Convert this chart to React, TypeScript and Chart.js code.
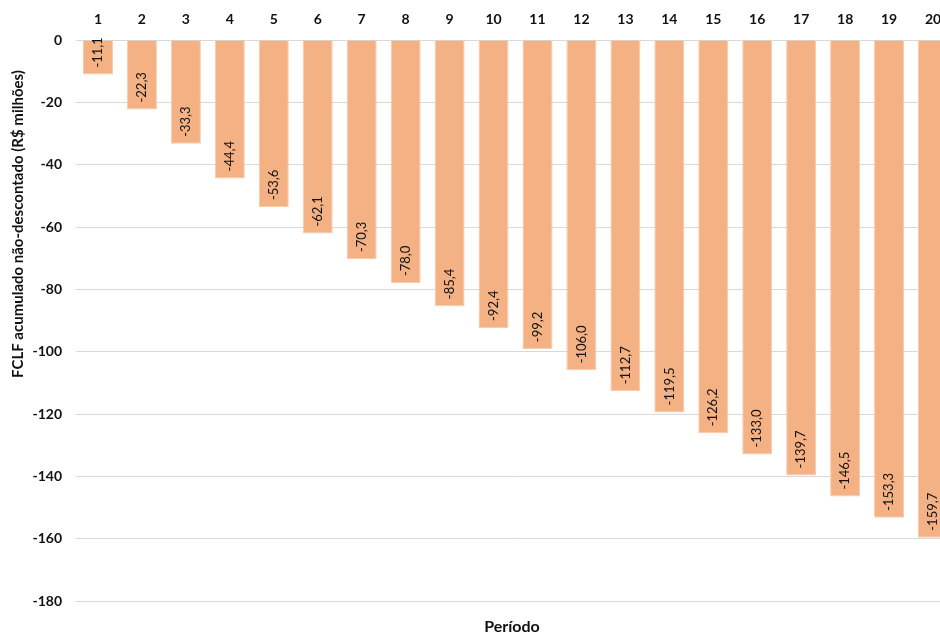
import React, { useEffect, useRef } from "react";
import { Chart, registerables } from "chart.js";

Chart.register(...registerables);

const periods: string[] = ["1","2","3","4","5","6","7","8","9","10","11","12","13","14","15","16","17","18","19","20"];
const fclfAcumulado: number[] = [-11.1, -22.3, -33.3, -44.4, -53.6, -62.1, -70.3, -78.0, -85.4, -92.4, -99.2, -106.0, -112.7, -119.5, -126.2, -133.0, -139.7, -146.5, -153.3, -159.7];
const yTitle = "FCLF acumulado não-descontado (R$ milhões)";
const xTitle = "Período";

const FONT = "Lato, 'Open Sans', sans-serif";

const labelsPlugin = {
  id: "customLabels",
  afterDatasetsDraw(chart: any) {
    const ctx = chart.ctx;
    const meta = chart.getDatasetMeta(0);
    ctx.save();
    ctx.font = `13px ${FONT}`;
    ctx.fillStyle = "#111111";
    meta.data.forEach((bar: any, i: number) => {
      const v = fclfAcumulado[i];
      const txt = v.toFixed(1).replace(".", ",");
      ctx.save();
      ctx.translate(bar.x, bar.y - 7);
      ctx.rotate(-Math.PI / 2);
      ctx.textAlign = "left";
      ctx.textBaseline = "middle";
      ctx.fillText(txt, 0, 0);
      ctx.restore();
    });
    ctx.restore();
  },
  afterDraw(chart: any) {
    const ctx = chart.ctx;
    ctx.save();
    ctx.fillStyle = "#111111";
    ctx.font = `bold 15px ${FONT}`;
    ctx.textAlign = "center";
    ctx.textBaseline = "middle";
    ctx.translate(18, 224);
    ctx.rotate(-Math.PI / 2);
    ctx.fillText(yTitle, 0, 0);
    ctx.restore();
    ctx.save();
    ctx.fillStyle = "#111111";
    ctx.font = `bold 16px ${FONT}`;
    ctx.textAlign = "center";
    ctx.textBaseline = "middle";
    ctx.fillText(xTitle, 512, 627);
    ctx.restore();
  },
};

export default function App() {
  const ref = useRef<HTMLCanvasElement | null>(null);
  useEffect(() => {
    if (!ref.current) return;
    const chart = new Chart(ref.current, {
      type: "bar",
      data: {
        labels: periods,
        datasets: [
          {
            data: fclfAcumulado,
            backgroundColor: "#F4B183",
            borderColor: "#F8CBAD",
            borderWidth: 1,
            categoryPercentage: 1,
            barPercentage: 0.683,
          },
        ],
      },
      options: {
        animation: false,
        responsive: true,
        maintainAspectRatio: false,
        layout: { padding: { left: 0, right: 0, top: 0, bottom: 34 } },
        plugins: { legend: { display: false }, tooltip: { enabled: false } },
        scales: {
          x: {
            position: "top",
            grid: { display: false, drawTicks: false },
            border: { display: false },
            ticks: {
              color: "#111111",
              font: { family: FONT, size: 14, weight: "bold" },
              padding: 12,
              maxRotation: 0,
            },
            afterFit(scale: any) {
              scale.height = 40;
            },
          },
          y: {
            min: -180,
            max: 0,
            grid: { color: "#D9D9D9", drawTicks: false },
            border: { display: false },
            ticks: {
              stepSize: 20,
              color: "#111111",
              font: { family: FONT, size: 14, weight: "bold" },
              padding: 14,
            },
            afterFit(scale: any) {
              scale.width = 76;
            },
          },
        },
      },
      plugins: [labelsPlugin],
    });
    return () => chart.destroy();
  }, []);
  return (
    <div style={{ position: "fixed", left: 0, top: 0, width: 940, height: 635, overflow: "hidden", background: "#fff" }}>
      <div style={{ position: "relative", width: 955, height: 635 }}>
        <canvas ref={ref} />
      </div>
    </div>
  );
}
